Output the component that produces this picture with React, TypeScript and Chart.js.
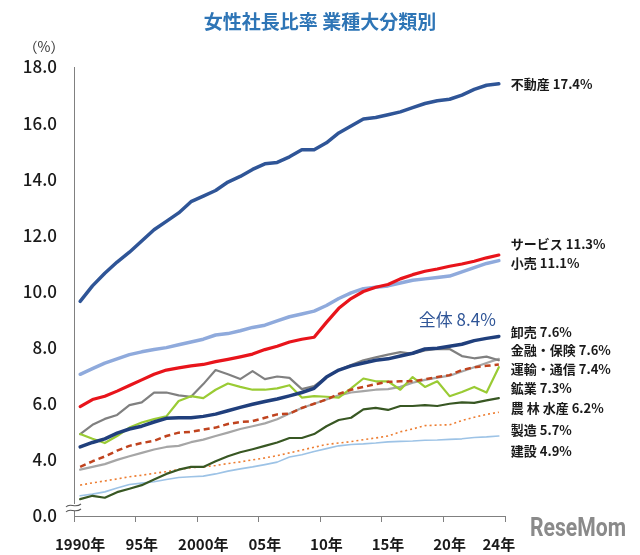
import React, { useEffect, useRef } from 'react';
import { Chart, registerables } from 'chart.js';

Chart.register(...registerables);

// ---- data ----
const years = [
  1990, 1991, 1992, 1993, 1994, 1995, 1996, 1997, 1998, 1999,
  2000, 2001, 2002, 2003, 2004, 2005, 2006, 2007, 2008, 2009,
  2010, 2011, 2012, 2013, 2014, 2015, 2016, 2017, 2018, 2019,
  2020, 2021, 2022, 2023, 2024,
];

const tickYears = [1990, 1995, 2000, 2005, 2010, 2015, 2020, 2024];
const tickLabels = ['1990年', '95年', '2000年', '05年', '10年', '15年', '20年', '24年'];

const yTickValues = [2, 4, 6, 8, 10, 12, 14, 16, 18];
const yTickLabels = ['0.0', '4.0', '6.0', '8.0', '10.0', '12.0', '14.0', '16.0', '18.0'];

const realEstate = [
  9.65, 10.2, 10.65, 11.05, 11.4, 11.8, 12.2, 12.5, 12.8, 13.2,
  13.4, 13.6, 13.9, 14.1, 14.35, 14.55, 14.6, 14.8, 15.05, 15.05,
  15.3, 15.65, 15.9, 16.15, 16.2, 16.3, 16.4, 16.55, 16.7, 16.8,
  16.85, 17.0, 17.2, 17.35, 17.4,
];
const services = [
  5.9, 6.15, 6.27, 6.45, 6.65, 6.85, 7.05, 7.2, 7.28, 7.35,
  7.4, 7.5, 7.58, 7.67, 7.77, 7.93, 8.05, 8.2, 8.3, 8.37,
  8.9, 9.4, 9.75, 10.0, 10.15, 10.25, 10.45, 10.6, 10.72, 10.8,
  10.9, 10.98, 11.08, 11.2, 11.3,
];
const retail = [
  7.05, 7.25, 7.45, 7.6, 7.75, 7.85, 7.93, 8.0, 8.1, 8.2,
  8.3, 8.45, 8.5, 8.6, 8.72, 8.8, 8.95, 9.1, 9.2, 9.3,
  9.5, 9.75, 9.95, 10.1, 10.15, 10.2, 10.3, 10.4, 10.45, 10.5,
  10.55, 10.7, 10.85, 11.0, 11.1,
];
const overall = [
  4.46, 4.62, 4.75, 4.95, 5.1, 5.2, 5.35, 5.48, 5.5, 5.5,
  5.55, 5.63, 5.75, 5.87, 5.98, 6.08, 6.17, 6.28, 6.4, 6.55,
  6.95, 7.2, 7.35, 7.45, 7.55, 7.6, 7.7, 7.8, 7.95, 7.98,
  8.05, 8.12, 8.25, 8.33, 8.4,
];
const wholesale = [
  3.65, 3.75, 3.85, 4.0, 4.13, 4.25, 4.37, 4.46, 4.5, 4.63,
  4.72, 4.85, 4.97, 5.1, 5.2, 5.3, 5.45, 5.65, 5.85, 6.0,
  6.15, 6.3, 6.4, 6.45, 6.5, 6.52, 6.6, 6.75, 6.85, 6.93,
  7.0, 7.15, 7.3, 7.45, 7.6,
];
const finance = [
  4.92, 5.25, 5.46, 5.6, 5.95, 6.05, 6.4, 6.4, 6.3, 6.25,
  6.7, 7.2, 7.05, 6.88, 7.16, 6.88, 6.97, 6.92, 6.52, 6.63,
  6.95, 7.2, 7.38, 7.55, 7.65, 7.75, 7.84, 7.78, 7.9, 7.95,
  7.95, 7.7, 7.62, 7.68, 7.55,
];
const transport = [
  3.75, 3.95, 4.12, 4.33, 4.5, 4.6, 4.68, 4.85, 4.97, 5.0,
  5.08, 5.15, 5.28, 5.35, 5.38, 5.5, 5.62, 5.65, 5.85, 6.0,
  6.15, 6.35, 6.5, 6.6, 6.7, 6.78, 6.8, 6.8, 6.87, 6.95,
  7.02, 7.2, 7.3, 7.35, 7.4,
];
const mining = [
  4.92, 4.75, 4.6, 4.85, 5.15, 5.33, 5.45, 5.55, 6.1, 6.27,
  6.2, 6.5, 6.72, 6.6, 6.5, 6.5, 6.55, 6.66, 6.22, 6.27,
  6.25, 6.22, 6.55, 6.9, 6.8, 6.8, 6.5, 6.95, 6.6, 6.8,
  6.27, 6.42, 6.6, 6.4, 7.3,
];
const agriculture = [
  2.6, 2.72, 2.65, 2.85, 2.97, 3.1, 3.3, 3.5, 3.65, 3.75,
  3.75, 3.95, 4.13, 4.27, 4.38, 4.5, 4.62, 4.78, 4.78, 4.92,
  5.2, 5.42, 5.5, 5.8, 5.85, 5.78, 5.92, 5.92, 5.95, 5.92,
  6.0, 6.05, 6.03, 6.12, 6.2,
];
const manufacturing = [
  3.1, 3.18, 3.25, 3.32, 3.4, 3.45, 3.52, 3.58, 3.66, 3.72,
  3.75, 3.8, 3.87, 3.93, 4.0, 4.07, 4.15, 4.25, 4.35, 4.45,
  4.55, 4.6, 4.65, 4.72, 4.78, 4.85, 5.0, 5.1, 5.22, 5.24,
  5.25, 5.4, 5.52, 5.62, 5.7,
];
const construction = [
  2.72, 2.78, 2.86, 3.0, 3.12, 3.17, 3.22, 3.3, 3.37, 3.4,
  3.42, 3.5, 3.6, 3.68, 3.75, 3.83, 3.92, 4.1, 4.18, 4.3,
  4.4, 4.5, 4.55, 4.57, 4.6, 4.64, 4.66, 4.67, 4.7, 4.71,
  4.73, 4.75, 4.8, 4.82, 4.85,
];

// right-hand labels and the value level at which each is placed
const sideLabels = [
  '不動産 17.4%', 'サービス 11.3%', '小売 11.1%', '卸売 7.6%', '金融・保険 7.6%',
  '運輸・通信 7.4%', '鉱業 7.3%', '農 林 水産 6.2%', '製造 5.7%', '建設 4.9%',
];
const sideLabelLevels = [17.4, 11.7, 11.03, 8.57, 7.92, 7.22, 6.55, 5.83, 5.05, 4.3];
const overallLabel = '全体 8.4%';
const overallLabelLevel = 8.99;

const titleText = '女性社長比率 業種大分類別';
const unitText = '（%）';

const FONT = '"Noto Sans CJK JP", "Noto Sans", sans-serif';

const overlayPlugin = {
  id: 'overlay',
  afterDraw(chart: any) {
    const { ctx, scales } = chart;
    const x = scales.x;
    const y = scales.y;
    ctx.save();
    // title
    ctx.fillStyle = '#2E75B6';
    ctx.font = `bold 19px ${FONT}`;
    ctx.textAlign = 'center';
    ctx.textBaseline = 'middle';
    ctx.fillText(titleText, 320, 22);
    // unit
    ctx.fillStyle = '#333333';
    ctx.font = `14px ${FONT}`;
    ctx.fillText(unitText, 44, 47);

    // side labels
    const lastX = x.getPixelForValue(years.length - 1);
    ctx.textAlign = 'left';
    ctx.fillStyle = '#1a1a1a';
    ctx.font = `bold 13px ${FONT}`;
    sideLabels.forEach((t, i) => {
      ctx.fillText(t, lastX + 12, y.getPixelForValue(sideLabelLevels[i]));
    });
    ctx.textAlign = 'right';
    ctx.fillStyle = '#2F5597';
    ctx.font = `17px ${FONT}`;
    ctx.fillText(overallLabel, lastX - 3, y.getPixelForValue(overallLabelLevel));

    // axis break mark
    const ax = chart.chartArea.left;
    const by = y.getPixelForValue(2) - 9;
    ctx.fillStyle = '#ffffff';
    ctx.fillRect(ax - 3, by - 3, 6, 7);
    ctx.strokeStyle = '#595959';
    ctx.lineWidth = 1.1;
    for (let k = 0; k < 2; k++) {
      const yy = by - 2 + k * 5;
      ctx.beginPath();
      ctx.moveTo(ax - 8, yy + 2);
      ctx.bezierCurveTo(ax - 4, yy - 3, ax + 1, yy + 4, ax + 7, yy - 1);
      ctx.stroke();
    }

    // watermark
    ctx.textAlign = 'left';
    ctx.fillStyle = '#8a8a8a';
    ctx.font = `bold 25px "Liberation Sans Narrow", "Roboto", sans-serif`;
    ctx.fillText('ReseMom', 530, 530, 96);
    ctx.restore();
  },
};

function ds(label: string, data: number[], color: string, width: number, dash: number[] = []) {
  return {
    label,
    data,
    borderColor: color,
    backgroundColor: color,
    borderWidth: width,
    borderDash: dash,
    pointRadius: 0,
    tension: 0,
    fill: false,
    borderCapStyle: dash.length ? 'butt' : 'round',
    borderJoinStyle: 'round',
  };
}

export default function App() {
  const ref = useRef<HTMLCanvasElement | null>(null);

  useEffect(() => {
    if (!ref.current) return;
    const chart = new Chart(ref.current, {
      type: 'line',
      data: {
        labels: years.map(String),
        datasets: [
          ds('全体', overall, '#203F7C', 3.5),
          ds('不動産', realEstate, '#2F5597', 3.5),
          ds('サービス', services, '#E8141B', 3.2),
          ds('小売', retail, '#8FAADC', 3.5),
          ds('運輸・通信', transport, '#C0431E', 2.5, [6, 4]),
          ds('鉱業', mining, '#9ACB34', 2.2),
          ds('金融・保険', finance, '#808080', 2.2),
          ds('卸売', wholesale, '#A6A6A6', 2.2),
          ds('農林水産', agriculture, '#385723', 2.2),
          ds('製造', manufacturing, '#ED7D31', 1.6, [2, 3]),
          ds('建設', construction, '#9DC3E6', 1.6),
        ] as any,
      },
      options: {
        responsive: true,
        maintainAspectRatio: false,
        animation: false,
        layout: { padding: { top: 67, right: 135, left: 0, bottom: 0 } },
        plugins: {
          legend: { display: false },
          tooltip: { enabled: false },
          title: { display: false },
        },
        scales: {
          x: {
            type: 'category',
            offset: true,
            grid: {
              offset: true,
              drawOnChartArea: false,
              drawTicks: true,
              tickLength: 6,
              tickColor: (c: any) =>
                c.index === undefined || c.index % 5 === 0 ? '#808080' : 'rgba(0,0,0,0)',
              lineWidth: 1,
            },
            border: { display: true, color: '#808080', width: 1 },
            ticks: {
              autoSkip: false,
              maxRotation: 0,
              minRotation: 0,
              padding: 13,
              color: '#1a1a1a',
              font: { family: FONT, size: 15, weight: 'bold' },
              callback: (_v: any, i: number) => {
                const k = tickYears.indexOf(years[i]);
                return k >= 0 ? tickLabels[k] : '';
              },
            },
            afterFit: (s: any) => {
              s.height = 39;
            },
          },
          y: {
            type: 'linear',
            min: 2,
            max: 18,
            afterBuildTicks: (s: any) => {
              s.ticks = yTickValues.map((v) => ({ value: v }));
            },
            grid: { drawOnChartArea: false, drawTicks: false },
            border: { display: true, color: '#808080', width: 1 },
            ticks: {
              padding: 17,
              color: '#1a1a1a',
              font: { family: FONT, size: 17, weight: '500' },
              callback: (v: any) => {
                const k = yTickValues.indexOf(Number(v));
                return k >= 0 ? yTickLabels[k] : '';
              },
            },
            afterFit: (s: any) => {
              s.width = 74;
            },
          },
        },
      },
      plugins: [overlayPlugin],
    });
    return () => chart.destroy();
  }, []);

  return (
    <div style={{ position: 'absolute', left: 0, top: 0, width: 640, height: 555, background: '#fff' }}>
      <canvas ref={ref} />
    </div>
  );
}
